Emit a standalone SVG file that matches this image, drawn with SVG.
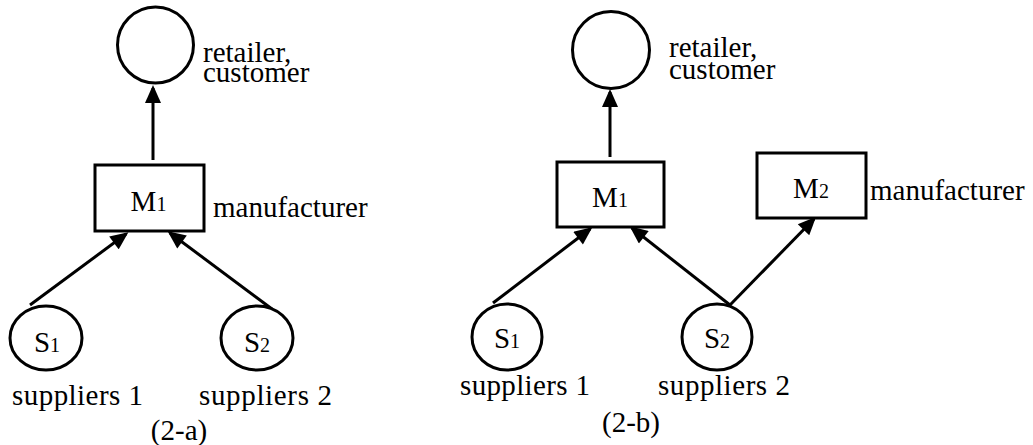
<svg xmlns="http://www.w3.org/2000/svg" width="1033" height="445" viewBox="0 0 1033 445">
<style>
.n{fill:#fff;stroke:#000;stroke-width:3}
.c{stroke:#000;stroke-width:3;fill:none;marker-end:url(#ah)}
text{font-family:"Liberation Serif","Times New Roman",serif;font-size:29px;fill:#000}
.m{text-anchor:middle}
.sub{font-size:20px}
</style>
<defs>
<marker id="ah" markerUnits="userSpaceOnUse" markerWidth="20" markerHeight="16" viewBox="0 0 18 16" refX="15" refY="8" orient="auto">
<path d="M0,0 L18,8 L0,16 Z" fill="#000"/>
</marker>
</defs>
<g id="connectors">
<line class="c" x1="153" y1="160" x2="153" y2="88"/>
<line class="c" x1="30" y1="305" x2="126" y2="234"/>
<line class="c" x1="272" y1="309" x2="170" y2="233"/>
<line class="c" x1="610" y1="157" x2="610" y2="92"/>
<line class="c" x1="493" y1="303" x2="590" y2="229"/>
<line class="c" x1="730" y1="305" x2="632" y2="228"/>
<line class="c" x1="730" y1="305" x2="814" y2="219"/>
</g>
<g id="a-retailer">
<circle class="n" cx="155.5" cy="45" r="38"/>
<text x="203" y="62">retailer,</text>
<text x="203" y="82">customer</text>
</g>
<g id="a-m1">
<rect class="n" x="95" y="165" width="109" height="66"/>
<text class="m" x="148.5" y="211">M<tspan class="sub">1</tspan></text>
<text x="213" y="217">manufacturer</text>
</g>
<g id="a-s1">
<ellipse class="n" cx="46" cy="338" rx="36" ry="32"/>
<text class="m" x="47" y="352">S<tspan class="sub">1</tspan></text>
<text x="12" y="405" textLength="131">suppliers 1</text>
</g>
<g id="a-s2">
<ellipse class="n" cx="257" cy="338" rx="36" ry="32"/>
<text class="m" x="257" y="352">S<tspan class="sub">2</tspan></text>
<text x="199" y="405" textLength="133">suppliers 2</text>
</g>
<text id="cap-a" class="m" x="179" y="440">(2-a)</text>
<g id="b-retailer">
<circle class="n" cx="611" cy="50" r="38.5"/>
<text x="669" y="57">retailer,</text>
<text x="669" y="79">customer</text>
</g>
<g id="b-m1">
<rect class="n" x="557" y="162" width="107" height="65"/>
<text class="m" x="610" y="207">M<tspan class="sub">1</tspan></text>
</g>
<g id="b-m2">
<rect class="n" x="757" y="153" width="109" height="65"/>
<text class="m" x="811" y="198">M<tspan class="sub">2</tspan></text>
<text x="870" y="200">manufacturer</text>
</g>
<g id="b-s1">
<ellipse class="n" cx="507" cy="337" rx="35" ry="33"/>
<text class="m" x="507" y="348">S<tspan class="sub">1</tspan></text>
<text x="460" y="395" textLength="130">suppliers 1</text>
</g>
<g id="b-s2">
<ellipse class="n" cx="717" cy="337" rx="35" ry="33"/>
<text class="m" x="717" y="348">S<tspan class="sub">2</tspan></text>
<text x="658" y="395" textLength="132">suppliers 2</text>
</g>
<text id="cap-b" class="m" x="631" y="432">(2-b)</text>
</svg>
